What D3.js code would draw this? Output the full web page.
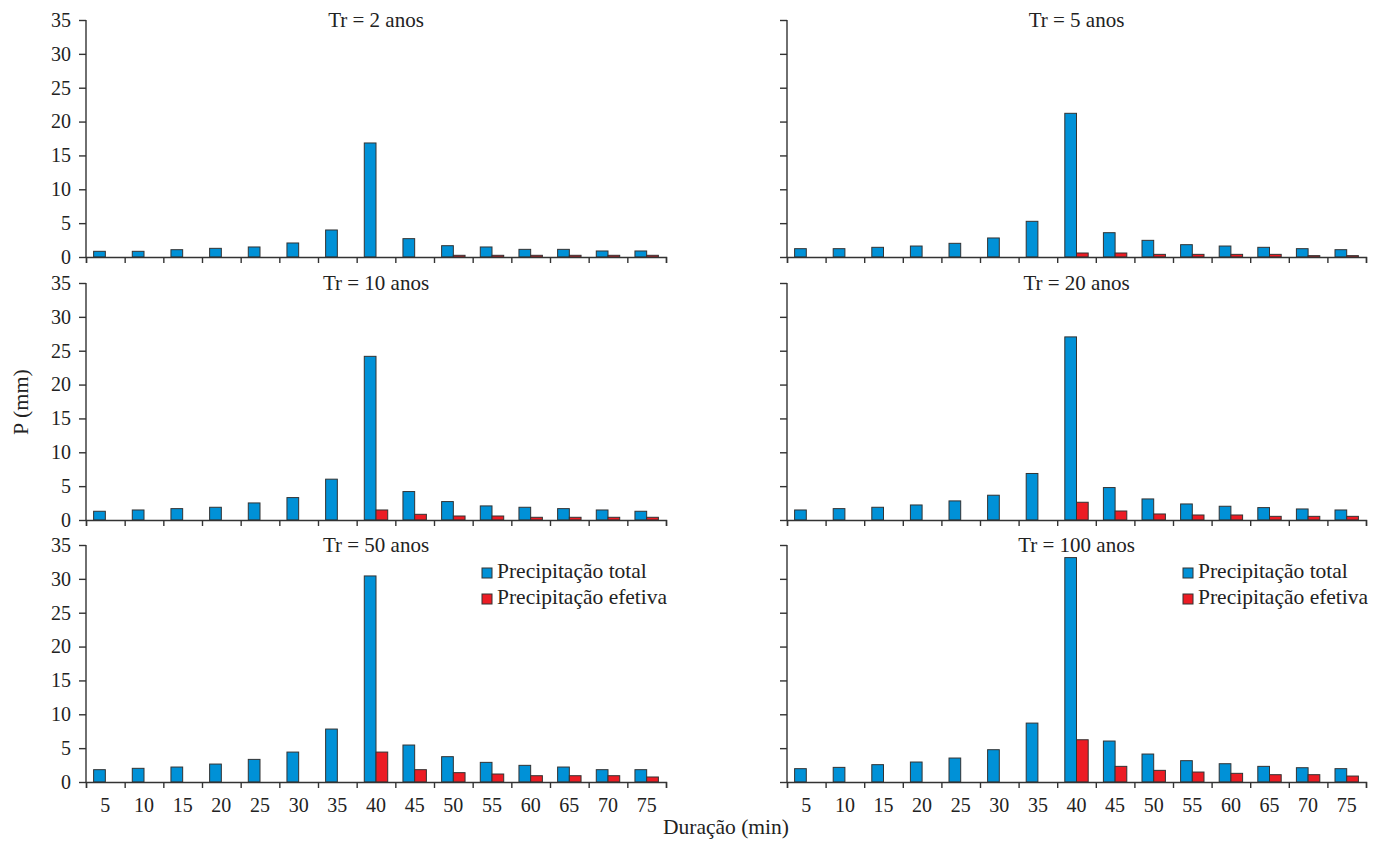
<!DOCTYPE html>
<html>
<head>
<meta charset="utf-8">
<script src="https://cdn.jsdelivr.net/npm/d3@7"></script>
<style>
  body { margin: 0; background: #fff; }
  svg { display: block; font-family: "Liberation Serif", "Times New Roman", serif; }
  svg text { font-family: "Liberation Serif", "Times New Roman", serif; }
</style>
</head>
<body>
<svg id="chart" width="1383" height="843"></svg>
<script>
// durations (min)
const durations = [5, 10, 15, 20, 25, 30, 35, 40, 45, 50, 55, 60, 65, 70, 75];
const yTicks = [0, 5, 10, 15, 20, 25, 30, 35];
const seriesNames = ["Precipitação total", "Precipitação efetiva"];

// values (mm)
const total2   = [0.84, 0.84, 1.08, 1.28, 1.48, 2.07, 3.99, 16.84, 2.71, 1.67, 1.48, 1.13, 1.13, 0.89, 0.89];
const efetiva2 = [0, 0, 0, 0, 0, 0, 0, 0, 0, 0.25, 0.25, 0.25, 0.25, 0.25, 0.25];
const total5   = [1.23, 1.23, 1.43, 1.62, 2.02, 2.81, 5.27, 21.22, 3.59, 2.46, 1.82, 1.62, 1.43, 1.23, 1.08];
const efetiva5 = [0, 0, 0, 0, 0, 0, 0, 0.59, 0.59, 0.39, 0.39, 0.39, 0.39, 0.2, 0.2];
const total10   = [1.29, 1.48, 1.68, 1.88, 2.52, 3.31, 6.03, 24.17, 4.2, 2.72, 2.08, 1.88, 1.68, 1.48, 1.29];
const efetiva10 = [0, 0, 0, 0, 0, 0, 0, 1.48, 0.84, 0.59, 0.59, 0.4, 0.4, 0.4, 0.4];
const total20   = [1.48, 1.68, 1.88, 2.22, 2.82, 3.66, 6.87, 27.04, 4.79, 3.11, 2.37, 2.03, 1.83, 1.63, 1.48];
const efetiva20 = [0, 0, 0, 0, 0, 0, 0, 2.62, 1.33, 0.89, 0.74, 0.74, 0.54, 0.54, 0.54];
const total50   = [1.82, 2.02, 2.21, 2.65, 3.34, 4.42, 7.82, 30.43, 5.46, 3.74, 2.9, 2.46, 2.21, 1.82, 1.82];
const efetiva50 = [0, 0, 0, 0, 0, 0, 0, 4.42, 1.82, 1.38, 1.18, 0.93, 0.93, 0.93, 0.74];
const total100   = [1.97, 2.16, 2.56, 2.95, 3.54, 4.77, 8.7, 33.14, 6.05, 4.13, 3.15, 2.7, 2.31, 2.11, 1.97];
const efetiva100 = [0, 0, 0, 0, 0, 0, 0, 6.24, 2.31, 1.72, 1.47, 1.28, 1.08, 1.08, 0.88];

const panels = [
  { title: "Tr = 2 anos",   total: total2,   efetiva: efetiva2,   col: 0, row: 0 },
  { title: "Tr = 5 anos",   total: total5,   efetiva: efetiva5,   col: 1, row: 0 },
  { title: "Tr = 10 anos",  total: total10,  efetiva: efetiva10,  col: 0, row: 1 },
  { title: "Tr = 20 anos",  total: total20,  efetiva: efetiva20,  col: 1, row: 1 },
  { title: "Tr = 50 anos",  total: total50,  efetiva: efetiva50,  col: 0, row: 2, legend: true },
  { title: "Tr = 100 anos", total: total100, efetiva: efetiva100, col: 1, row: 2, legend: true }
];

const colors = { total: "#0091d7", efetiva: "#ec1c24" };
const ink = "#333";
const colX = [[86, 666], [787, 1366]];
const rowY = [[20, 257], [283, 520], [545, 782]];

const svg = d3.select("#chart");

panels.forEach(p => {
  const [x0, x1] = colX[p.col];
  const [top, bottom] = rowY[p.row];
  const g = svg.append("g");

  const x = d3.scaleBand().domain(durations).range([x0, x1]).padding(0);
  const xs = d3.scaleBand().domain(["total", "efetiva"]).range([0, x.bandwidth()]).paddingOuter(0.65);
  const y = d3.scaleLinear().domain([0, 35]).range([bottom, top]);
  const edge = d3.scaleLinear().domain([0, durations.length]).range([x0, x1]);

  // bars
  const rows = durations.map((d, i) => ({ d, total: p.total[i], efetiva: p.efetiva[i] }));
  ["total", "efetiva"].forEach(k => {
    g.append("g")
      .selectAll("rect")
      .data(rows.filter(r => r[k] > 0))
      .join("rect")
      .attr("x", r => x(r.d) + xs(k))
      .attr("y", r => y(r[k]))
      .attr("width", xs.bandwidth())
      .attr("height", r => y(0) - y(r[k]))
      .attr("fill", colors[k])
      .attr("stroke", ink)
      .attr("stroke-width", 1);
  });

  // y axis
  const yAxis = g.append("g")
    .attr("transform", `translate(${x0},0)`)
    .call(d3.axisLeft(y).tickValues(yTicks).tickSize(7).tickPadding(8)
      .tickFormat(p.col === 0 ? d3.format("d") : ""));
  // x axis: ticks on band edges
  const xAxis = g.append("g")
    .attr("transform", `translate(0,${bottom})`)
    .call(d3.axisBottom(edge).tickValues(d3.range(0, durations.length + 1)).tickSize(6).tickFormat(""));
  [yAxis, xAxis].forEach(a => {
    a.attr("font-family", null);
    a.select(".domain").attr("stroke", ink).attr("stroke-width", 1.4);
    a.selectAll(".tick line").attr("stroke", ink).attr("stroke-width", 1.4);
    a.selectAll("text").attr("fill", "#222").style("font-size", "20px");
  });
  yAxis.select(".domain").attr("d", `M0,${top}V${bottom}`);

  if (p.row === 2) {
    const lab = g.append("g")
      .attr("transform", `translate(0,${bottom})`)
      .call(d3.axisBottom(x).tickSize(0).tickPadding(16));
    lab.attr("font-family", null);
    lab.select(".domain").remove();
    lab.selectAll("text").attr("fill", "#222").style("font-size", "20px");
  }

  // panel title
  g.append("text")
    .attr("x", (x0 + x1) / 2)
    .attr("y", top + 7)
    .attr("text-anchor", "middle")
    .attr("fill", "#222")
    .style("font-size", "21px")
    .text(p.title);

  if (p.legend) {
    const lg = g.append("g").attr("transform", `translate(${x0 + 396},${top + 23})`);
    ["total", "efetiva"].forEach((k, i) => {
      lg.append("rect")
        .attr("x", 0).attr("y", i * 26)
        .attr("width", 10).attr("height", 10)
        .attr("fill", colors[k]).attr("stroke", ink).attr("stroke-width", 1);
      lg.append("text")
        .attr("x", 15).attr("y", i * 26 + 10)
        .attr("fill", "#222")
        .style("font-size", "21.5px")
        .text(seriesNames[i]);
    });
  }
});

// axis titles
svg.append("text")
  .attr("transform", "translate(28,402) rotate(-90)")
  .attr("text-anchor", "middle")
  .attr("fill", "#222")
  .style("font-size", "22px")
  .text("P (mm)");

svg.append("text")
  .attr("x", 726)
  .attr("y", 834)
  .attr("text-anchor", "middle")
  .attr("fill", "#222")
  .style("font-size", "21.5px")
  .text("Duração (min)");
</script>
</body>
</html>
